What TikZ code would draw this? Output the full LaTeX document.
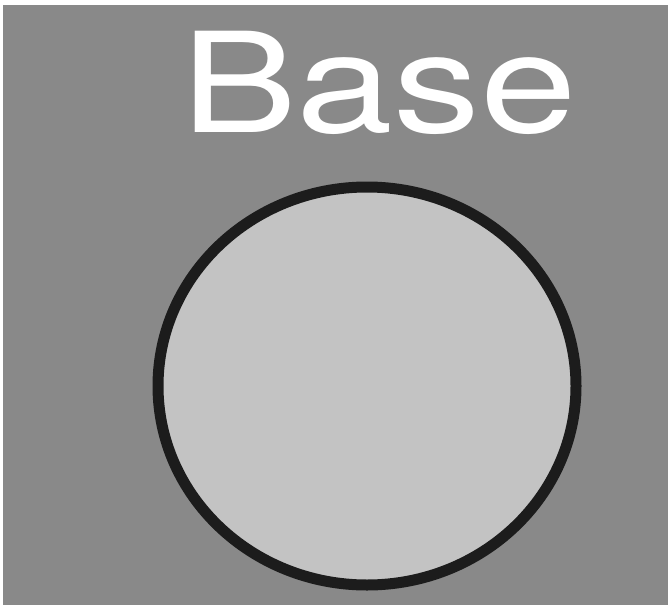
\documentclass[tikz,border=0pt]{standalone}
\usepackage{fontspec}
\setmainfont{TeX Gyre Heros}
\definecolor{bggray}{HTML}{898989}
\definecolor{discfill}{HTML}{C3C3C3}
\definecolor{discline}{HTML}{1C1C1C}
\begin{document}
\begin{tikzpicture}[x=1pt,y=-1pt,
  title/.style={text=white,font=\fontsize{139}{139}\selectfont,inner sep=0pt,anchor=base,xscale=1.25},
  disc/.style={draw=discline,fill=discfill,line width=11pt}]
\useasboundingbox (0,0) rectangle (668,607);
\fill[white] (0,0) rectangle (668,607);
\fill[bggray] (3,5) rectangle (668,605);
\draw[disc] (367,386) ellipse [x radius=209, y radius=199];
\node[title] (label) at (379,132) {Base};
\end{tikzpicture}
\end{document}
